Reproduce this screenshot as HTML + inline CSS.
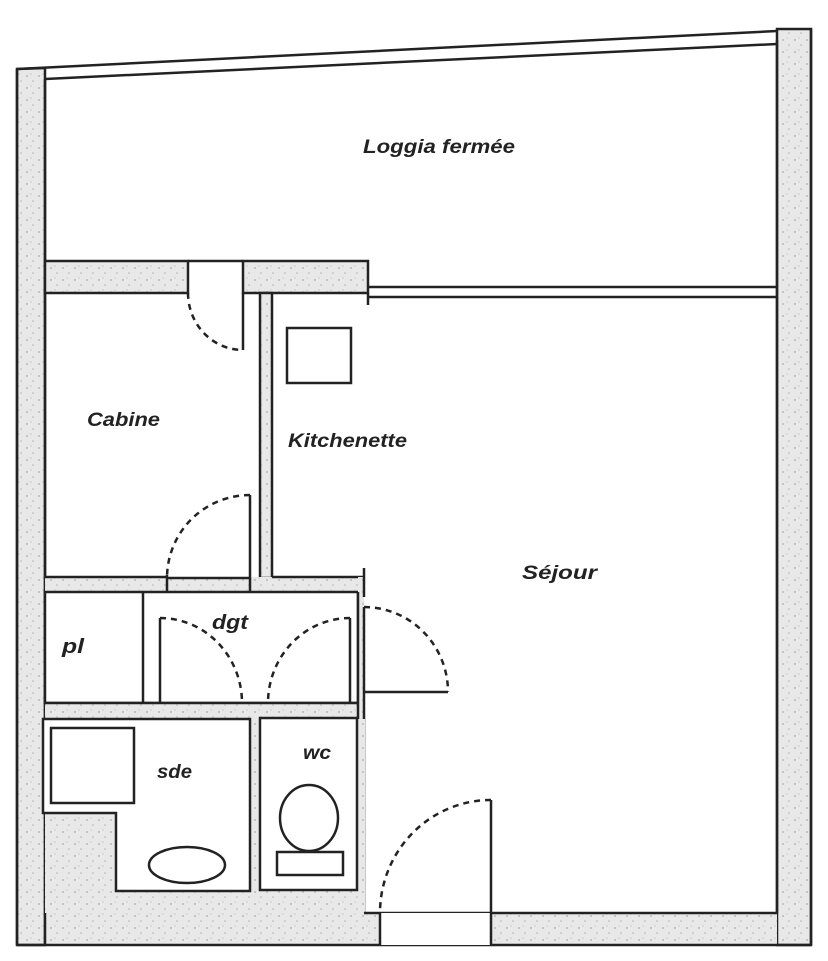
<!DOCTYPE html>
<html><head><meta charset="utf-8"><style>
html,body{margin:0;padding:0;background:#fff}
svg{display:block}
text{font-family:"Liberation Sans",Arial,sans-serif;font-weight:bold;font-style:italic;fill:#222}
</style></head><body>
<svg width="828" height="961" viewBox="0 0 828 961" xmlns="http://www.w3.org/2000/svg">
<defs>
<pattern id="sp" width="12" height="12" patternUnits="userSpaceOnUse">
<rect width="12" height="12" fill="#e8e8e8"/>
<circle cx="3" cy="4" r="0.9" fill="#aaa"/><circle cx="9" cy="9" r="0.8" fill="#b4b4b4"/><circle cx="7" cy="2" r="0.6" fill="#bbb"/>
</pattern>
</defs>
<g stroke="#222" stroke-width="2.5" fill="none">
<path d="M17 69 L45 68 L45 945 L17 945 Z" fill="url(#sp)"/>
<path d="M777 29 L811 29 L811 945 L777 945 Z" fill="url(#sp)"/>
<rect x="45" y="913" width="732" height="32" fill="url(#sp)" stroke="none"/>
<line x1="17" y1="945" x2="811" y2="945"/>
<line x1="17" y1="69" x2="17" y2="945"/>
<line x1="811" y1="29" x2="811" y2="945"/>
<line x1="45" y1="79" x2="45" y2="945"/>
<line x1="777" y1="40" x2="777" y2="913"/>
<line x1="17" y1="69" x2="777" y2="31"/>
<line x1="45" y1="79" x2="777" y2="44"/>
<rect x="45" y="261" width="143" height="32" fill="url(#sp)"/>
<rect x="243" y="261" width="125" height="32" fill="url(#sp)"/>
<line x1="188" y1="261" x2="243" y2="261"/>
<line x1="368" y1="287" x2="777" y2="287"/>
<line x1="368" y1="297" x2="777" y2="297"/>
<line x1="368" y1="293" x2="368" y2="305"/>
<rect x="260" y="293" width="12" height="285" fill="url(#sp)"/>
<line x1="243" y1="293" x2="243" y2="350"/>
<path d="M188 293 A55 57 0 0 0 243 350" stroke-dasharray="6 5"/>
<rect x="45" y="577" width="320" height="15" fill="url(#sp)" stroke="none"/>
<line x1="45" y1="577" x2="167" y2="577"/>
<line x1="167" y1="578" x2="250" y2="578"/>
<line x1="272" y1="577" x2="364" y2="577"/>
<line x1="250" y1="495" x2="250" y2="592"/>
<line x1="167" y1="575" x2="167" y2="592"/>
<path d="M250 495 A83 83 0 0 0 167 578" stroke-dasharray="6 5"/>
<rect x="287" y="328" width="64" height="55"/>
<rect x="45" y="592" width="313" height="111" fill="#fff"/>
<line x1="143" y1="592" x2="143" y2="703"/>
<line x1="160" y1="618" x2="160" y2="719"/>
<line x1="350" y1="618" x2="350" y2="719"/>
<path d="M160 618 A82 85 0 0 1 242 703" stroke-dasharray="6 5"/>
<path d="M350 618 A82 85 0 0 0 268 703" stroke-dasharray="6 5"/>
<line x1="242" y1="703" x2="242" y2="719"/>
<line x1="268" y1="703" x2="268" y2="719"/>
<rect x="45" y="703" width="320" height="16" fill="url(#sp)" stroke="none"/>
<line x1="45" y1="703" x2="358" y2="703"/>
<rect x="358" y="577" width="6" height="336" fill="url(#sp)" stroke="none"/>
<line x1="364" y1="568" x2="364" y2="597"/>
<line x1="364" y1="607" x2="364" y2="913"/>
<line x1="358" y1="592" x2="358" y2="913"/>
<line x1="364" y1="692" x2="448" y2="692"/>
<path d="M364 607 A84 85 0 0 1 448 692" stroke-dasharray="6 5"/>
<rect x="45" y="719" width="320" height="194" fill="url(#sp)" stroke="none"/>
<path d="M43 719 L250 719 L250 891 L116 891 L116 813 L43 813 Z" fill="#fff"/>
<rect x="51" y="728" width="83" height="75"/>
<ellipse cx="187" cy="865" rx="38" ry="18"/>
<rect x="260" y="718" width="97" height="172" fill="#fff"/>
<ellipse cx="309" cy="818" rx="29" ry="33"/>
<rect x="277" y="852" width="66" height="23"/>
<line x1="364" y1="913" x2="777" y2="913"/>
<rect x="380" y="913" width="111" height="32" fill="#fff" stroke="none"/>
<line x1="380" y1="913" x2="380" y2="945"/>
<line x1="491" y1="800" x2="491" y2="945"/>
<path d="M491 800 A111 113 0 0 0 380 913" stroke-dasharray="6 5"/>
</g>
<text x="363" y="153" font-size="19" textLength="152" lengthAdjust="spacingAndGlyphs">Loggia fermée</text>
<text x="87" y="426" font-size="19" textLength="73" lengthAdjust="spacingAndGlyphs">Cabine</text>
<text x="288" y="447" font-size="19" textLength="119" lengthAdjust="spacingAndGlyphs">Kitchenette</text>
<text x="522" y="579" font-size="19" textLength="75" lengthAdjust="spacingAndGlyphs">Séjour</text>
<text x="212" y="629" font-size="20" textLength="36" lengthAdjust="spacingAndGlyphs">dgt</text>
<text x="62" y="653" font-size="20" textLength="22" lengthAdjust="spacingAndGlyphs">pl</text>
<text x="157" y="778" font-size="19" textLength="35" lengthAdjust="spacingAndGlyphs">sde</text>
<text x="303" y="759" font-size="19" textLength="28" lengthAdjust="spacingAndGlyphs">wc</text>
</svg>
</body></html>
